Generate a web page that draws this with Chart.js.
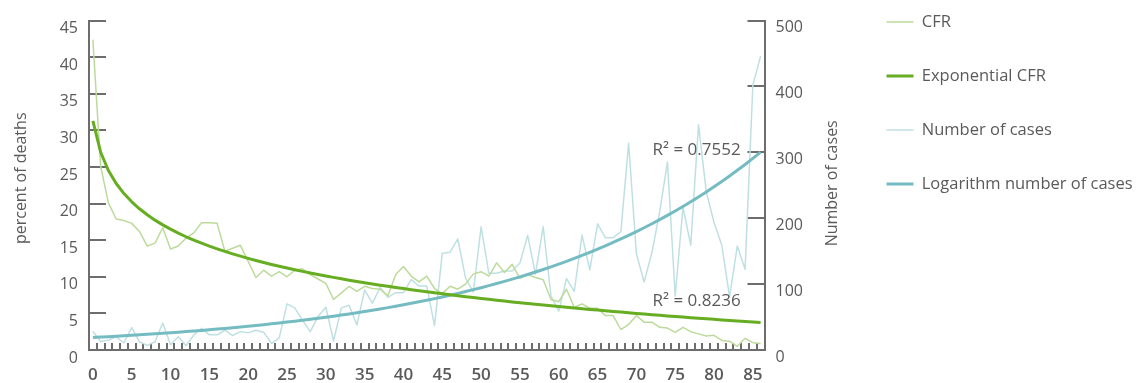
<!DOCTYPE html>
<html>
<head>
<meta charset="utf-8">
<script src="https://cdn.jsdelivr.net/npm/chart.js@4.4.1/dist/chart.umd.min.js"></script>
<style>
  html, body { margin: 0; padding: 0; background: #ffffff; }
  canvas { display: block; }
</style>
</head>
<body>
<canvas id="chart" width="1142" height="383"></canvas>
<script>
// Age in years (category axis)
const ages = ['0','1','2','3','4','5','6','7','8','9','10','11','12','13','14','15','16','17','18','19',
  '20','21','22','23','24','25','26','27','28','29','30','31','32','33','34','35','36','37','38','39',
  '40','41','42','43','44','45','46','47','48','49','50','51','52','53','54','55','56','57','58','59',
  '60','61','62','63','64','65','66','67','68','69','70','71','72','73','74','75','76','77','78','79',
  '80','81','82','83','84','85','86'];

// Case fatality rate, percent of deaths
const cfr = [42.4, 25.1, 20.1, 17.9, 17.7, 17.3, 16.2, 14.2, 14.6, 16.7,
  13.8, 14.2, 15.3, 16.0, 17.4, 17.4, 17.3, 13.5, 13.9, 14.3,
  12.1, 9.9, 10.9, 10.1, 10.7, 10.0, 10.9, 11.1, 10.3, 9.7,
  9.1, 6.9, 7.8, 8.7, 8.0, 8.7, 8.4, 8.3, 7.4, 10.3,
  11.4, 10.1, 9.3, 10.1, 8.4, 7.7, 8.7, 8.3, 9.0, 10.4,
  10.7, 10.1, 11.9, 10.6, 11.7, 9.8, 10.3, 9.9, 9.6, 6.9,
  6.6, 8.3, 5.8, 6.3, 5.7, 5.7, 4.7, 4.7, 2.8, 3.5,
  4.7, 3.8, 3.8, 3.1, 3.0, 2.4, 3.1, 2.5, 2.2, 1.9,
  2.0, 1.3, 1.2, 0.5, 1.6, 1.0, 0.9];

// Fitted CFR trend
const cfrTrend = [31.30, 27.02, 24.52, 22.75, 21.37, 20.24, 19.29, 18.47, 17.74, 17.09,
  16.51, 15.97, 15.47, 15.02, 14.59, 14.19, 13.82, 13.47, 13.13, 12.82,
  12.52, 12.23, 11.95, 11.69, 11.44, 11.20, 10.97, 10.74, 10.52, 10.31,
  10.11, 9.92, 9.73, 9.54, 9.36, 9.19, 9.02, 8.86, 8.70, 8.54,
  8.39, 8.24, 8.09, 7.95, 7.81, 7.68, 7.54, 7.41, 7.29, 7.16,
  7.04, 6.92, 6.80, 6.69, 6.57, 6.46, 6.35, 6.25, 6.14, 6.04,
  5.94, 5.84, 5.74, 5.64, 5.54, 5.45, 5.36, 5.27, 5.18, 5.09,
  5.00, 4.91, 4.83, 4.74, 4.66, 4.58, 4.50, 4.42, 4.34, 4.26,
  4.19, 4.11, 4.04, 3.96, 3.89, 3.82, 3.75];

// Number of cases per age
const cases = [28, 13, 15, 20, 11, 34, 12.5, 7, 12.5, 41,
  8, 20, 6.5, 23, 33, 23, 23, 30, 22, 28,
  26, 30, 27, 10, 18.5, 70, 64, 45, 28, 51,
  65, 14, 64, 68, 38, 91, 71, 95, 80, 87,
  87, 107, 97, 97, 37, 147, 148.5, 168.5, 109, 88,
  187, 116.5, 116.5, 120, 120, 132, 174, 115, 187, 82,
  59, 108.5, 89, 174.5, 121.5, 191.5, 170.5, 170.5, 179.5, 314,
  146, 103, 148, 209.5, 285.5, 82, 217, 159, 342, 240,
  193.5, 159, 81, 158, 122.5, 402, 446];

// Fitted trend of the number of cases
const casesTrend = [19.00, 19.62, 20.26, 20.92, 21.60, 22.31, 23.04, 23.79, 24.56, 25.36,
  26.19, 27.05, 27.93, 28.84, 29.78, 30.75, 31.75, 32.79, 33.86, 34.96,
  36.10, 37.28, 38.50, 39.75, 41.05, 42.39, 43.77, 45.20, 46.67, 48.20,
  49.77, 51.39, 53.07, 54.80, 56.59, 58.43, 60.34, 62.31, 64.34, 66.44,
  68.60, 70.84, 73.15, 75.54, 78.00, 80.55, 83.18, 85.89, 88.69, 91.58,
  94.57, 97.65, 100.84, 104.13, 107.53, 111.03, 114.66, 118.40, 122.26, 126.25,
  130.36, 134.62, 139.01, 143.54, 148.22, 153.06, 158.05, 163.20, 168.53, 174.03,
  179.70, 185.56, 191.62, 197.87, 204.32, 210.99, 217.87, 224.98, 232.31, 239.89,
  247.72, 255.80, 264.14, 272.76, 281.65, 290.84, 300.33];

// Goodness of fit of the two trends
const cfrR2 = 0.8236;
const casesR2 = 0.7552;

// Axis tick values
const percentTicks = [0, 5, 10, 15, 20, 25, 30, 35, 40, 45];
const caseTicks = [0, 100, 200, 300, 400, 500];

const FONT = "'Open Sans', 'DejaVu Sans', sans-serif";
const AXIS = '#6d6d6d';
const TEXT = '#5a5a5a';

// Inward tick marks, rotated axis titles and R² labels
const axisDecor = {
  id: 'axisDecor',
  afterLayout(chart) {
    // Legend column: first entry level with the top of the plot, placed right of the axis title
    const lg = chart.legend;
    const lab = chart.options.plugins.legend.labels;
    const shift = 22 - (lg.top + lab.padding + lab.font.size / 2);
    lg.top += shift;
    lg.bottom += shift;
    lg.left = 849;
    lg.right = chart.width;
    lg.width = lg.right - lg.left;
  },
  beforeDatasetsDraw(chart) {
    const { ctx, chartArea: a, scales: { x, y, y1 } } = chart;
    ctx.save();
    ctx.strokeStyle = AXIS;
    ctx.lineWidth = 2;
    ctx.beginPath();
    percentTicks.forEach(v => {
      if (v === 0) return;
      const py = Math.round(y.getPixelForValue(v));
      ctx.moveTo(a.left, py);
      ctx.lineTo(a.left + 17, py);
    });
    caseTicks.forEach(v => {
      if (v === 0) return;
      const py = Math.round(y1.getPixelForValue(v));
      ctx.moveTo(a.right - 17, py);
      ctx.lineTo(a.right, py);
    });
    for (let k = 1; k < ages.length; k++) {
      const bx = Math.round((x.getPixelForValue(k - 1) + x.getPixelForValue(k)) / 2);
      ctx.moveTo(bx, a.bottom);
      ctx.lineTo(bx, a.bottom - 7);
    }
    ctx.stroke();
    ctx.restore();
  },
  afterDraw(chart) {
    const { ctx, chartArea: a, scales: { x, y, y1 } } = chart;
    const mid = (a.top + a.bottom) / 2;
    ctx.save();
    ctx.fillStyle = TEXT;
    ctx.font = '16px ' + FONT;
    ctx.textAlign = 'center';
    ctx.textBaseline = 'middle';
    const rotated = (txt, cx, cy) => {
      ctx.save();
      ctx.translate(cx, cy);
      ctx.rotate(-Math.PI / 2);
      ctx.fillText(txt, 0, 0);
      ctx.restore();
    };
    rotated('percent of deaths', y.left + 21.5, mid - 7);
    rotated('Number of cases', y1.left + 68, mid - 2);

    const last = ages.length - 1;
    const lx = x.getPixelForValue(last) - 20;
    ctx.font = '17px ' + FONT;
    ctx.textAlign = 'right';
    ctx.fillText('R² = ' + casesR2.toFixed(4), lx, y1.getPixelForValue(casesTrend[last]) - 2);
    ctx.fillText('R² = ' + cfrR2.toFixed(4), lx, y.getPixelForValue(cfrTrend[last]) - 21);
    ctx.restore();
  }
};

new Chart(document.getElementById('chart'), {
  type: 'line',
  data: {
    labels: ages,
    datasets: [
      { label: 'CFR', data: cfr, yAxisID: 'y', borderColor: '#bcdb9a', borderWidth: 1.5, order: 2 },
      { label: 'Exponential CFR', data: cfrTrend, yAxisID: 'y', borderColor: '#66ad22', borderWidth: 3, order: 1 },
      { label: 'Number of cases', data: cases, yAxisID: 'y1', borderColor: '#bfe0e3', borderWidth: 1.5, order: 2 },
      { label: 'Logarithm number of cases', data: casesTrend, yAxisID: 'y1', borderColor: '#74bcc2', borderWidth: 3, order: 1 }
    ]
  },
  options: {
    responsive: false,
    devicePixelRatio: 1,
    animation: false,
    events: [],
    layout: { padding: { top: 16, left: 0, right: 0, bottom: 0 } },
    elements: {
      point: { radius: 0, hoverRadius: 0 },
      line: { tension: 0, fill: false, borderCapStyle: 'butt', borderJoinStyle: 'round' }
    },
    scales: {
      x: {
        type: 'category',
        offset: true,
        grid: { display: false, drawTicks: false },
        border: { display: true, color: AXIS, width: 2 },
        ticks: {
          autoSkip: false, maxRotation: 0, minRotation: 0, padding: 15,
          color: TEXT, font: { family: FONT, size: 17, weight: '600' },
          callback: (v, i) => (i % 5 === 0 ? ages[i] : '')
        },
        afterFit: s => { s.height = 33; }
      },
      y: {
        position: 'left', min: 0, max: 45,
        afterBuildTicks: s => { s.ticks = percentTicks.map(v => ({ value: v })); },
        grid: { display: false, drawTicks: false },
        border: { display: true, color: AXIS, width: 2 },
        ticks: { padding: 11, labelOffset: 8, color: TEXT, font: { family: FONT, size: 16 } },
        afterFit: s => { s.width = 89; }
      },
      y1: {
        position: 'right', min: 0, max: 500,
        afterBuildTicks: s => { s.ticks = caseTicks.map(v => ({ value: v })); },
        grid: { display: false, drawTicks: false },
        border: { display: true, color: AXIS, width: 2 },
        ticks: { padding: 11, labelOffset: 7, color: TEXT, font: { family: FONT, size: 16 } },
        afterFit: s => { s.width = 197.5; }
      }
    },
    plugins: {
      tooltip: { enabled: false },
      legend: {
        display: true,
        position: 'right',
        align: 'start',
        maxWidth: 180,
        labels: {
          boxWidth: 27,
          boxHeight: 0,
          padding: 37.5,
          color: TEXT,
          font: { family: FONT, size: 16.5 },
          generateLabels: chart => chart.data.datasets.map((ds, i) => ({
            text: ds.label,
            fillStyle: ds.borderColor,
            strokeStyle: ds.borderColor,
            lineWidth: ds.borderWidth,
            fontColor: TEXT,
            hidden: false,
            datasetIndex: i
          }))
        }
      }
    }
  },
  plugins: [axisDecor]
});
</script>
</body>
</html>
